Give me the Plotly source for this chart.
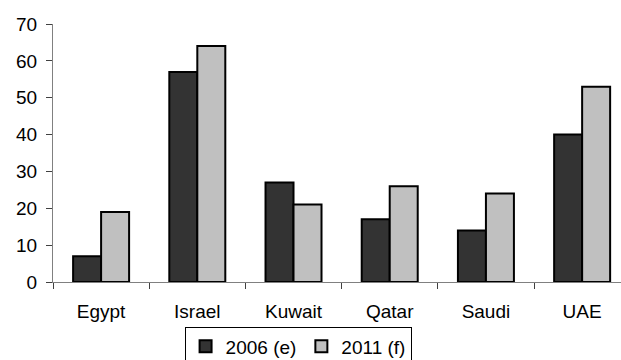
import plotly.graph_objects as go

# Categories and values
countries = ["Egypt", "Israel", "Kuwait", "Qatar", "Saudi", "UAE"]
values_2006 = [7, 57, 27, 17, 14, 40]
values_2011 = [19, 64, 21, 26, 24, 53]
series_names = ["2006 (e)", "2011 (f)"]
y_ticks = [0, 10, 20, 30, 40, 50, 60, 70]

font = dict(family="Liberation Sans, Arial, sans-serif", size=19, color="black")
outline = dict(color="black", width=2)

fig = go.Figure()
fig.add_trace(go.Bar(x=countries, y=values_2006, name=series_names[0],
                     marker=dict(color="#333333", line=outline)))
fig.add_trace(go.Bar(x=countries, y=values_2011, name=series_names[1],
                     marker=dict(color="#c0c0c0", line=outline)))

fig.update_layout(
    width=621, height=360,
    margin=dict(l=53, r=0, t=24, b=78, autoexpand=False),
    paper_bgcolor="white", plot_bgcolor="white",
    font=font,
    barmode="group", bargap=0.418, bargroupgap=0,
    showlegend=True,
    legend=dict(orientation="h", xref="container", yref="container",
                x=0.48, xanchor="center", y=0.093, yanchor="top",
                bordercolor="black", borderwidth=1, bgcolor="white",
                font=font, itemwidth=30, tracegroupgap=0),
)
fig.update_xaxes(
    range=[-0.5, 5.404], showgrid=False, zeroline=False,
    showline=True, linecolor="#808080", linewidth=1,
    ticks="outside", tickson="boundaries", ticklen=6, tickcolor="#404040",
    tickfont=font, ticklabelstandoff=12, automargin=False,
)
fig.update_yaxes(
    range=[0, 70], tickvals=y_ticks, showgrid=False, zeroline=False,
    showline=True, linecolor="#808080", linewidth=1,
    ticks="outside", ticklen=6, tickcolor="#404040",
    tickfont=font, ticklabelstandoff=5, automargin=False,
)

fig.write_html("out.html")
